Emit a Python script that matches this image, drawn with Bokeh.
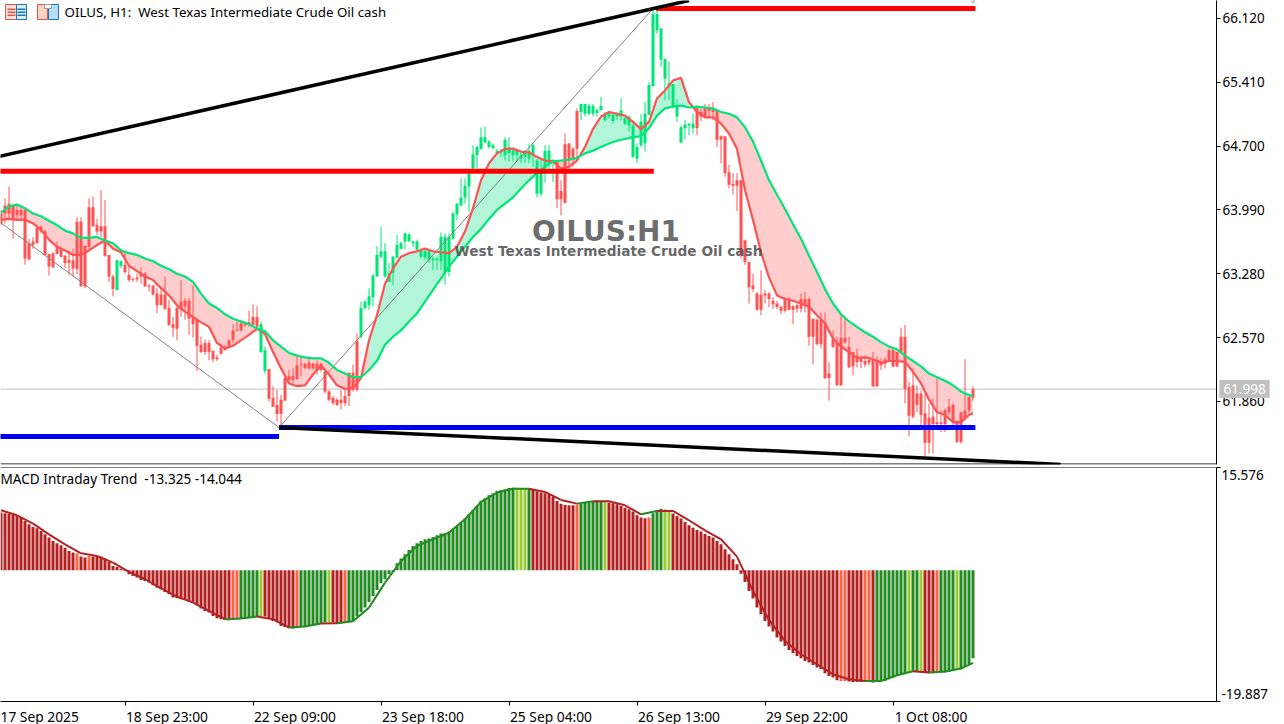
from bokeh.plotting import figure
from bokeh.layouts import column
from bokeh.models import (Range1d, LinearAxis, FixedTicker, Label, Span, ColumnDataSource,
                          GlobalInlineStyleSheet)
from bokeh.embed import file_html
from bokeh.resources import INLINE

# ---------- candles (price) ----------
candle_high = [63.99,64.12,64.25,64.06,64.04,64.04,64.02,63.67,63.69,63.80,63.82,63.77,63.50,63.52,63.64,63.58,63.49,63.54,63.56,63.91,
63.91,63.60,64.12,64.14,63.89,64.21,64.10,63.49,63.27,63.43,63.43,63.52,63.36,63.24,63.28,63.35,63.30,63.17,63.15,63.12,
63.14,63.25,62.99,62.80,62.91,63.21,63.01,63.01,63.15,62.78,62.58,62.55,62.54,62.43,62.38,62.47,62.49,62.55,62.72,62.75,
62.77,62.75,62.87,62.94,62.92,62.75,62.47,62.22,62.03,61.99,61.93,62.14,62.21,62.23,62.36,62.36,62.29,62.33,62.29,62.32,
62.29,62.21,61.99,61.92,61.90,61.99,62.01,62.18,62.27,62.62,62.97,62.99,63.12,63.28,63.59,63.80,63.62,63.40,63.48,63.71,
63.64,63.74,63.73,63.65,63.66,63.56,63.55,63.55,63.47,63.47,63.74,63.73,63.73,63.97,64.07,64.34,64.34,64.40,64.71,64.71,
64.91,64.92,64.77,64.73,64.67,64.67,64.80,64.80,64.69,64.67,64.64,64.66,64.73,64.73,64.56,64.56,64.71,64.71,64.56,64.54,
64.32,64.84,64.73,64.69,65.12,65.17,65.17,65.17,65.17,65.12,65.25,65.08,65.08,65.07,65.08,65.23,65.03,65.04,64.95,64.73,
65.06,65.19,65.41,66.21,66.21,66.01,65.67,65.64,65.39,65.22,64.93,64.99,64.96,65.06,65.14,65.12,65.17,65.17,65.19,65.10,
64.82,64.81,64.49,64.40,64.40,64.32,63.66,63.41,63.28,63.08,63.32,63.10,63.08,63.02,62.98,62.93,63.02,63.02,62.93,62.95,
63.06,63.08,63.02,62.78,62.78,62.85,62.85,62.30,62.65,62.58,62.82,62.80,62.58,62.41,62.45,62.37,62.37,62.36,62.41,62.36,
62.34,62.35,62.44,62.47,62.41,62.68,62.71,62.08,62.23,62.04,61.98,61.95,61.84,61.89,62.11,61.76,61.78,61.89,61.84,61.65,
61.74,62.33,61.91,62.03]
candle_top = [63.95,64.04,64.06,64.04,63.99,63.99,63.99,63.62,63.64,63.79,63.80,63.75,63.50,63.51,63.58,63.56,63.48,63.43,63.43,63.86,
63.86,63.59,64.02,64.02,63.82,63.81,63.81,63.49,63.25,63.43,63.42,63.38,63.27,63.22,63.24,63.28,63.28,63.15,63.15,63.06,
63.05,63.05,62.90,62.72,62.90,62.97,62.98,62.98,62.80,62.77,62.49,62.51,62.51,62.42,62.35,62.46,62.47,62.54,62.65,62.66,
62.73,62.73,62.74,62.80,62.80,62.72,62.43,62.22,61.90,61.82,61.88,62.12,62.14,62.14,62.26,62.28,62.28,62.29,62.28,62.28,
62.28,62.19,61.97,61.90,61.88,61.88,61.92,62.18,62.18,62.53,62.90,62.97,63.03,63.26,63.49,63.53,63.53,63.29,63.47,63.60,
63.62,63.73,63.72,63.64,63.64,63.53,63.53,63.53,63.45,63.45,63.69,63.69,63.69,63.95,64.06,64.13,64.26,64.39,64.61,64.69,
64.80,64.80,64.75,64.71,64.65,64.65,64.77,64.69,64.65,64.65,64.60,64.64,64.65,64.71,64.54,64.43,64.65,64.65,64.53,64.53,
64.20,64.72,64.73,64.67,65.09,65.17,65.17,65.15,65.15,65.10,65.15,65.06,65.06,65.05,65.06,65.10,65.01,65.03,64.93,64.69,
64.97,65.06,65.38,66.17,66.17,66.01,65.67,65.40,65.39,65.14,64.91,64.94,64.95,64.95,65.12,65.08,65.13,65.13,65.11,65.10,
64.81,64.81,64.41,64.28,64.32,64.32,63.65,63.41,63.15,63.06,63.05,63.06,63.06,62.98,62.95,62.91,63.00,63.00,62.92,62.93,
63.00,63.00,63.00,62.78,62.77,62.77,62.74,62.17,62.56,62.52,62.57,62.57,62.47,62.41,62.37,62.35,62.31,62.32,62.32,62.32,
62.30,62.33,62.43,62.43,62.41,62.58,62.58,62.02,62.04,61.95,61.95,61.73,61.68,61.69,61.63,61.63,61.76,61.80,61.82,61.63,
61.74,61.76,61.91,62.00]
candle_bottom = [63.84,63.95,63.95,63.88,63.93,63.93,63.45,63.44,63.60,63.62,63.75,63.49,63.36,63.35,63.50,63.47,63.40,63.40,63.34,63.33,
63.14,63.14,63.58,63.81,63.75,63.75,63.48,63.25,63.11,63.10,63.37,63.30,63.21,63.21,63.22,63.25,63.14,63.14,63.05,62.93,
62.93,62.89,62.71,62.68,62.67,62.88,62.92,62.78,62.72,62.48,62.41,62.41,62.41,62.33,62.33,62.39,62.43,62.46,62.54,62.65,
62.65,62.71,62.72,62.71,62.69,62.41,62.20,61.89,61.80,61.72,61.72,61.87,62.10,62.10,62.11,62.27,62.23,62.23,62.23,62.21,
62.21,61.97,61.88,61.84,61.82,61.84,61.84,61.92,61.99,61.99,62.58,62.90,62.93,63.02,63.25,63.47,63.25,63.19,63.29,63.46,
63.56,63.64,63.64,63.62,63.55,63.47,63.46,63.43,63.43,63.43,63.42,63.30,63.30,63.67,63.94,64.04,64.13,64.25,64.45,64.60,
64.67,64.74,64.69,64.68,64.62,64.63,64.60,64.62,64.60,64.60,64.56,64.58,64.56,64.60,64.17,64.17,64.45,64.51,64.51,64.11,
64.11,64.07,64.54,64.55,64.67,65.08,65.06,65.06,65.06,65.07,65.10,64.99,65.03,64.98,65.03,65.03,64.95,64.93,64.58,64.56,
64.71,64.73,65.05,65.37,65.99,65.66,65.45,65.36,65.14,65.03,64.74,64.90,64.93,64.90,64.90,65.03,65.02,65.09,65.08,64.77,
64.77,64.40,64.27,64.26,64.26,63.49,63.41,63.13,63.11,62.88,62.88,63.04,63.00,62.94,62.91,62.87,62.87,62.88,62.88,62.89,
62.89,62.93,62.58,62.58,62.50,62.50,62.12,62.12,62.47,62.04,62.04,62.52,62.24,62.25,62.30,62.30,62.27,62.29,62.03,62.03,
62.26,62.28,62.32,62.25,62.25,62.41,62.00,61.70,61.69,61.82,61.71,61.40,61.40,61.61,61.61,61.61,61.61,61.74,61.63,61.41,
61.41,61.67,61.76,61.90]
candle_low = [63.82,63.84,63.88,63.67,63.88,63.89,63.38,63.44,63.56,63.62,63.73,63.49,63.26,63.35,63.50,63.46,63.34,63.27,63.25,63.28,
63.14,63.12,63.56,63.80,63.71,63.69,63.47,63.19,63.03,63.10,63.34,63.28,63.19,63.19,63.19,63.17,63.14,63.08,63.04,62.84,
62.93,62.88,62.70,62.58,62.54,62.80,62.77,62.60,62.57,62.20,62.40,62.38,62.32,62.30,62.31,62.38,62.43,62.45,62.51,62.64,
62.64,62.69,62.69,62.70,62.65,62.40,62.17,61.86,61.80,61.64,61.59,61.86,62.06,62.06,62.10,62.14,62.22,62.21,62.21,62.16,
62.19,61.95,61.86,61.82,61.81,61.77,61.81,61.81,61.97,61.97,62.56,62.88,62.88,62.92,63.25,63.45,63.23,63.19,63.15,63.45,
63.55,63.55,63.64,63.58,63.53,63.45,63.44,63.40,63.32,63.32,63.32,63.16,63.25,63.66,63.88,64.03,64.06,63.97,64.43,64.45,
64.66,64.73,64.67,64.66,64.60,64.58,64.54,64.53,64.53,64.54,64.51,64.51,64.51,64.47,64.13,64.14,64.30,64.43,64.30,64.01,
63.93,64.06,64.45,64.47,64.54,64.99,65.03,65.04,65.03,65.03,65.10,64.97,65.01,64.95,64.99,64.99,64.93,64.86,64.57,64.51,
64.69,64.64,65.04,65.36,65.95,65.58,65.21,65.21,65.12,64.97,64.73,64.78,64.82,64.84,64.82,64.98,65.01,65.01,64.99,64.69,
64.51,64.36,64.23,64.16,63.98,63.45,63.38,62.95,63.08,62.87,62.82,62.95,62.91,62.89,62.89,62.83,62.85,62.87,62.72,62.85,
62.85,62.85,62.48,62.27,62.48,62.45,62.11,61.87,62.45,62.03,62.03,62.50,62.23,62.15,62.24,62.23,62.24,62.26,62.02,62.02,
62.21,62.23,62.30,62.24,62.24,62.39,61.84,61.47,61.67,61.74,61.60,61.25,61.28,61.28,61.58,61.52,61.52,61.71,61.60,61.40,
61.39,61.65,61.74,61.87]
green_candles = [29,30,65,66] + list(range(90,139)) + list(range(145,174))

# ---------- moving averages read at every second bar ----------
ma_bars = list(range(0,243,2)) + [243]
ma_fast = [63.88,63.89,63.88,63.88,63.84,63.77,63.66,63.58,63.54,63.49,63.49,63.54,63.60,63.65,63.56,63.52,63.37,63.31,63.25,63.21,
63.12,63.04,62.93,62.86,62.80,62.74,62.69,62.51,62.45,62.48,62.54,62.60,62.67,62.61,62.41,62.23,62.06,62.03,62.04,62.16,
62.26,62.16,62.04,62.00,62.01,62.12,62.54,62.82,63.17,63.34,63.47,63.51,63.53,63.56,63.53,63.52,63.51,63.58,63.75,64.01,
64.32,64.51,64.62,64.67,64.67,64.64,64.63,64.58,64.54,64.53,64.45,64.47,64.54,64.69,64.89,65.03,65.08,65.06,65.04,64.97,
64.89,64.97,65.23,65.32,65.43,65.46,65.19,65.08,65.02,65.02,64.95,64.84,64.67,64.21,63.88,63.52,63.24,63.04,63.00,62.98,
62.95,62.91,62.82,62.73,62.56,62.47,62.41,62.34,62.35,62.33,62.29,62.31,62.31,62.30,62.19,62.06,61.88,61.74,61.71,61.63,
61.63,61.71,61.73]
ma_slow = [63.96,64.03,64.05,64.01,63.95,63.92,63.87,63.82,63.76,63.73,63.68,63.68,63.69,63.65,63.62,63.54,63.51,63.49,63.45,63.42,
63.37,63.33,63.28,63.25,63.19,63.06,62.95,62.90,62.83,62.78,62.75,62.72,62.67,62.64,62.54,62.47,62.40,62.37,62.35,62.34,
62.34,62.29,62.21,62.17,62.13,62.13,62.21,62.31,62.49,62.58,62.65,62.75,62.84,62.97,63.10,63.23,63.36,63.47,63.58,63.69,
63.78,63.89,63.99,64.06,64.13,64.23,64.32,64.40,64.47,64.53,64.54,64.55,64.57,64.62,64.65,64.69,64.73,64.76,64.78,64.80,
64.81,64.90,65.04,65.12,65.14,65.15,65.13,65.14,65.13,65.12,65.08,65.06,65.02,64.91,64.75,64.54,64.32,64.16,64.00,63.83,
63.67,63.48,63.30,63.11,62.95,62.83,62.75,62.69,62.63,62.58,62.52,62.47,62.44,62.37,62.31,62.25,62.17,62.13,62.09,62.04,
61.97,61.93,61.92]

# ---------- MACD ----------
macd_hist = [8.74,8.64,8.53,8.43,8.23,7.98,7.47,6.97,6.57,6.36,5.96,5.45,4.95,4.44,4.09,3.79,3.43,2.93,2.68,2.58,
2.07,1.92,2.17,2.07,2.07,2.07,1.77,1.26,0.66,0.51,0.25,-0.10,-0.61,-0.86,-1.11,-1.46,-1.62,-1.87,-2.27,-2.63,
-2.88,-3.28,-3.64,-4.14,-4.24,-4.39,-4.49,-4.80,-4.90,-5.30,-5.81,-6.16,-6.41,-6.92,-7.27,-7.42,-7.52,-7.58,-7.52,-7.42,
-7.32,-7.32,-7.17,-7.07,-6.92,-6.92,-7.02,-7.32,-7.68,-7.93,-8.43,-8.59,-8.74,-8.84,-8.74,-8.53,-8.43,-8.43,-8.33,-8.18,
-8.03,-7.93,-7.93,-7.93,-8.03,-8.03,-7.93,-7.83,-7.68,-7.02,-6.31,-5.66,-4.80,-3.89,-2.98,-1.97,-1.36,-0.61,-0.25,1.06,
1.77,2.42,3.08,3.69,4.09,4.44,4.70,4.80,5.05,5.30,5.56,5.61,5.86,6.31,6.72,7.22,7.83,8.48,9.09,9.75,
10.50,10.91,11.36,11.62,12.02,12.17,12.27,12.47,12.52,12.52,12.37,12.37,12.37,12.17,11.97,11.77,11.67,11.51,11.16,10.50,
10.10,9.90,9.85,9.85,9.95,10.10,10.25,10.35,10.45,10.45,10.45,10.35,10.25,10.15,10.00,9.75,9.49,9.24,8.89,8.33,
7.98,7.88,7.98,8.64,9.14,9.34,9.24,8.99,8.59,8.23,7.83,7.32,6.82,6.46,6.11,5.86,5.50,5.20,4.95,4.44,
3.94,3.18,2.42,1.67,0.91,-0.51,-1.77,-3.13,-4.29,-5.66,-6.67,-7.68,-8.53,-9.29,-10.20,-10.81,-11.46,-12.07,-12.57,-12.98,
-13.33,-13.74,-13.99,-14.34,-14.75,-15.00,-15.60,-16.01,-16.26,-16.67,-16.77,-16.77,-16.87,-16.92,-16.92,-16.92,-16.87,-16.92,-17.02,-16.87,
-16.77,-16.77,-16.51,-16.26,-16.01,-15.76,-15.60,-15.40,-15.40,-15.40,-15.40,-15.50,-15.60,-15.60,-15.60,-15.50,-15.50,-15.40,-15.15,-15.10,
-15.00,-14.64,-14.24,-13.325]
hist_color_runs = [("R",19),("O",1),("R",2),("O",1),("R",35),("O",2),("G",5),("L",1),("R",8),("O",1),("G",7),("L",1),("R",3),("O",1),
("G",42),("L",3),("G",1),("R",11),("O",1),("G",6),("L",1),("R",10),("O",1),("G",3),("L",2),("R",42),("O",2),("R",4),("O",2),("R",1),
("G",8),("L",1),("G",2),("L",1),("R",3),("O",1),("G",4),("L",1),("G",4)]
signal_bars = list(range(0,241,4)) + [243]
macd_signal = [9.09,8.33,7.07,5.45,3.94,2.58,2.17,1.16,-0.25,-1.36,-2.73,-3.99,-4.90,-6.16,-7.42,-7.32,-7.02,-7.42,-8.69,-8.53,
-8.08,-8.03,-7.73,-5.66,-1.87,1.41,3.69,4.70,5.71,7.73,10.35,11.77,12.37,12.37,11.87,10.66,10.10,10.45,10.45,9.85,
8.48,8.99,8.99,7.58,6.06,4.70,2.07,-3.13,-7.52,-10.71,-12.73,-14.24,-15.76,-16.51,-16.77,-16.77,-15.91,-15.30,-15.50,-15.35,-14.90,-14.044]

# ---------- tick labels ----------
price_ticks = [66.120,65.410,64.700,63.990,63.280,62.570,61.860]
macd_ticks = [15.576,-19.887]
time_ticks = [31,63,95,127,159,191,223]
time_labels = ["17 Sep 2025","18 Sep 23:00","22 Sep 09:00","23 Sep 18:00","25 Sep 04:00","26 Sep 13:00","29 Sep 22:00","1 Oct 08:00"]
time_label_bars = [9.25,41.5,73.5,105.5,137.5,169.5,201.5,232.5]
last_price = 61.998

# ---------- drawn objects ----------
up_trend = ([-2.0,172.0],[64.57,66.32])
down_trend = ([69.5,264.9],[61.57,61.16])
red_levels = [([-2.0,163.2],[64.42,64.42]),([163.8,243.6],[66.23,66.23])]
blue_levels = [([-2.0,69.5],[61.47,61.47]),([69.5,243.6],[61.57,61.57])]
zigzag = ([-0.13,69.5,163.0],[63.85,61.57,66.23])

RED="#FF5252"; GREEN="#00E676"; FILL_R="#FFCDCD"; FILL_G="#B2F5D9"
HC={"R":"#B22222","O":"#FF6347","G":"#228B22","L":"#9ACD32"}
FONT="Noto Sans"; FS="13.5px"

n=len(candle_high)
bars=list(range(n))
xr=Range1d(-0.125,303.875)
PTOP=66.32; PSTEP=0.011123
yr=Range1d(PTOP-464*PSTEP,PTOP)
def fx(px): return (px-0.5)/4
def fy(py): return PTOP-py*PSTEP

style=GlobalInlineStyleSheet(css="html,body{margin:0;padding:0;background:#fff;overflow:hidden}")

p=figure(frame_width=1216,frame_height=464,x_range=xr,y_range=yr,y_axis_location="right",x_axis_location=None,
         output_backend="svg",toolbar_location=None,min_border_left=0,min_border_top=0,min_border_bottom=1,min_border_right=68,
         outline_line_color=None,background_fill_color="white",border_fill_color="white")
p.grid.visible=False
ya=p.yaxis[0]
ya.ticker=FixedTicker(ticks=price_ticks)
ya.major_label_overrides={t:f"{t:.3f}" for t in price_ticks}
ya.major_label_text_font=FONT; ya.major_label_text_font_size=FS; ya.major_label_text_color="black"
ya.axis_line_color="black"; ya.major_tick_line_color="black"; ya.major_tick_out=4; ya.major_tick_in=0; ya.minor_tick_line_color=None
ya.major_label_standoff=2
p.add_layout(Span(location=yr.start+0.5*PSTEP,dimension="width",line_color="black",line_width=1))

# fill between averages
run_x=[];run_f=[];run_s=[];sign=None
def flush():
    if len(run_x)>1:
        p.varea(x=list(run_x),y1=list(run_f),y2=list(run_s),fill_color=FILL_G if sign else FILL_R)
for k in range(len(ma_bars)):
    s=ma_fast[k]>ma_slow[k]
    if sign is not None and s!=sign:
        run_x.append(ma_bars[k]);run_f.append(ma_fast[k]);run_s.append(ma_slow[k])
        flush()
        run_x=[];run_f=[];run_s=[]
    sign=s
    run_x.append(ma_bars[k]);run_f.append(ma_fast[k]);run_s.append(ma_slow[k])
flush()

# last price line
p.add_layout(Span(location=last_price,dimension="width",line_color="#C0C0C0",line_width=1,level="underlay"))

# candles
cc=[GREEN if i in green_candles else RED for i in bars]
src=ColumnDataSource(dict(x=bars,h=candle_high,l=candle_low,t=candle_top,b=candle_bottom,c=cc))
p.segment(x0="x",x1="x",y0="l",y1="h",line_color="c",line_width=1,source=src)
p.vbar(x="x",top="t",bottom="b",width=0.75,fill_color="c",line_color=None,source=src)

# zigzag
p.line(zigzag[0],zigzag[1],line_color="#808080",line_width=1)
# averages
p.line(ma_bars,ma_fast,line_color=RED,line_width=2.2)
p.line(ma_bars,ma_slow,line_color=GREEN,line_width=2.2)
# levels / trend lines
for xs,ys in red_levels: p.line(xs,ys,line_color="#FF0000",line_width=5)
for xs,ys in blue_levels: p.line(xs,ys,line_color="#0000FF",line_width=5)
p.line(*up_trend,line_color="black",line_width=3.5)
p.line(*down_trend,line_color="black",line_width=3.5)
p.scatter([243.0],[66.335],marker="diamond",size=10,fill_color="#C0C0C0",line_color=None)

# icons in the top left corner
def box(x0,x1,y0,y1,fill,line=None):
    p.quad(left=fx(x0),right=fx(x1),top=fy(y0),bottom=fy(y1),fill_color=fill,line_color=line,line_width=1)
box(5,16,4,19,"#FFE3DC","#E2564F"); box(16,26,4,19,"#DCEEFB","#1C75BC")
for yy in (8,11,14):
    box(7,15,yy,yy+1.5,"#E2564F"); box(17,25,yy,yy+1.5,"#1C75BC")
box(37,47,4,19,"#FDD5C4","#E2564F"); box(48,58,4,19,"#B8DEF7","#1C75BC"); box(44,51,4,8,"#FFFFFF","#9A9A9A")

# texts
p.add_layout(Label(x=64,y=453,x_units="screen",y_units="screen",text="OILUS, H1:\u00a0\u00a0West Texas Intermediate Crude Oil cash",
    text_font=FONT,text_font_size="13.3px",text_color="black",text_baseline="middle"))
p.add_layout(Label(x=605.5,y=fy(231),x_units="screen",y_units="data",text="OILUS:H1",text_font="DejaVu Sans",text_font_style="bold",
    text_font_size="28px",text_color="#5E5E5E",text_alpha=0.92,text_align="center",text_baseline="middle"))
p.add_layout(Label(x=608,y=fy(250),x_units="screen",y_units="data",text="West Texas Intermediate Crude Oil cash",text_font="DejaVu Sans",text_font_style="bold",
    text_font_size="13.7px",text_color="#4A4A4A",text_alpha=0.85,text_align="center",text_baseline="middle"))
p.add_layout(Label(x=-23,y=last_price,x_units="screen",y_units="data",text=f"{last_price:.3f}",text_font=FONT,text_font_size=FS,text_color="white",
    text_align="center",text_baseline="middle",background_fill_color="#C0C0C0",padding=4),"right")

# ---------- MACD panel ----------
q=figure(frame_width=1216,frame_height=234,x_range=xr,y_range=Range1d(macd_ticks[1],macd_ticks[0]),y_axis_location="right",x_axis_location="below",
         output_backend="svg",toolbar_location=None,min_border_left=0,min_border_top=2,min_border_bottom=23,min_border_right=68,
         outline_line_color=None,background_fill_color="white",border_fill_color="white")
q.grid.visible=False
qa=q.yaxis[0]
qa.ticker=FixedTicker(ticks=macd_ticks)
qa.major_label_overrides={t:"" for t in macd_ticks}
qa.major_label_standoff=0
qa.axis_line_color="black"; qa.major_tick_line_color="black"; qa.major_tick_out=4; qa.major_tick_in=0; qa.minor_tick_line_color=None
# the labels sit inside the scale, just below / above their ticks
macd_label_at=[14.364,-18.675]
qb=LinearAxis(ticker=FixedTicker(ticks=macd_label_at),major_label_overrides=dict(zip(macd_label_at,[f"{t:.3f}" for t in macd_ticks])),
    axis_line_color=None,major_tick_line_color=None,minor_tick_line_color=None,major_label_standoff=-5,
    major_label_text_font=FONT,major_label_text_font_size=FS,major_label_text_color="black")
q.add_layout(qb,"right")
xa=q.xaxis[0]
xa.ticker=FixedTicker(ticks=time_ticks)
xa.major_label_overrides={t:"" for t in time_ticks}
xa.axis_line_color="black"; xa.major_tick_line_color="black"; xa.major_tick_out=4; xa.major_tick_in=0; xa.minor_tick_line_color=None
xa.major_label_standoff=0
xb=LinearAxis(ticker=FixedTicker(ticks=time_label_bars),major_label_overrides=dict(zip(time_label_bars,time_labels)),
    axis_line_color=None,major_tick_line_color=None,minor_tick_line_color=None,major_label_standoff=-5,
    major_label_text_font=FONT,major_label_text_font_size="13.8px",major_label_text_color="black")
q.add_layout(xb,"below")
q.add_layout(Span(location=macd_ticks[0],dimension="width",line_color="black",line_width=1))

colors=[HC[k] for k,c in hist_color_runs for _ in range(c)]
hs=ColumnDataSource(dict(x=bars,top=[max(v,0) for v in macd_hist],bottom=[min(v,0) for v in macd_hist],c=colors))
q.vbar(x="x",top="top",bottom="bottom",width=0.75,fill_color="c",line_color=None,source=hs)
seg_c=[]
for k in range(len(signal_bars)-1):
    seg_c.append("#228B22" if colors[signal_bars[k+1]] in (HC["G"],HC["L"]) else "#B22222")
q.segment(x0=signal_bars[:-1],x1=signal_bars[1:],y0=macd_signal[:-1],y1=macd_signal[1:],line_color=seg_c,line_width=2)

q.add_layout(Label(x=0,y=223,x_units="screen",y_units="screen",text=f"MACD Intraday Trend\u00a0\u00a0{macd_hist[-1]:.3f} {macd_signal[-1]:.3f}",
    text_font=FONT,text_font_size="13.6px",text_color="black",text_baseline="middle"))

col=column(p,q,spacing=0,stylesheets=[style])
open("out.html","w").write(file_html(col,INLINE))
